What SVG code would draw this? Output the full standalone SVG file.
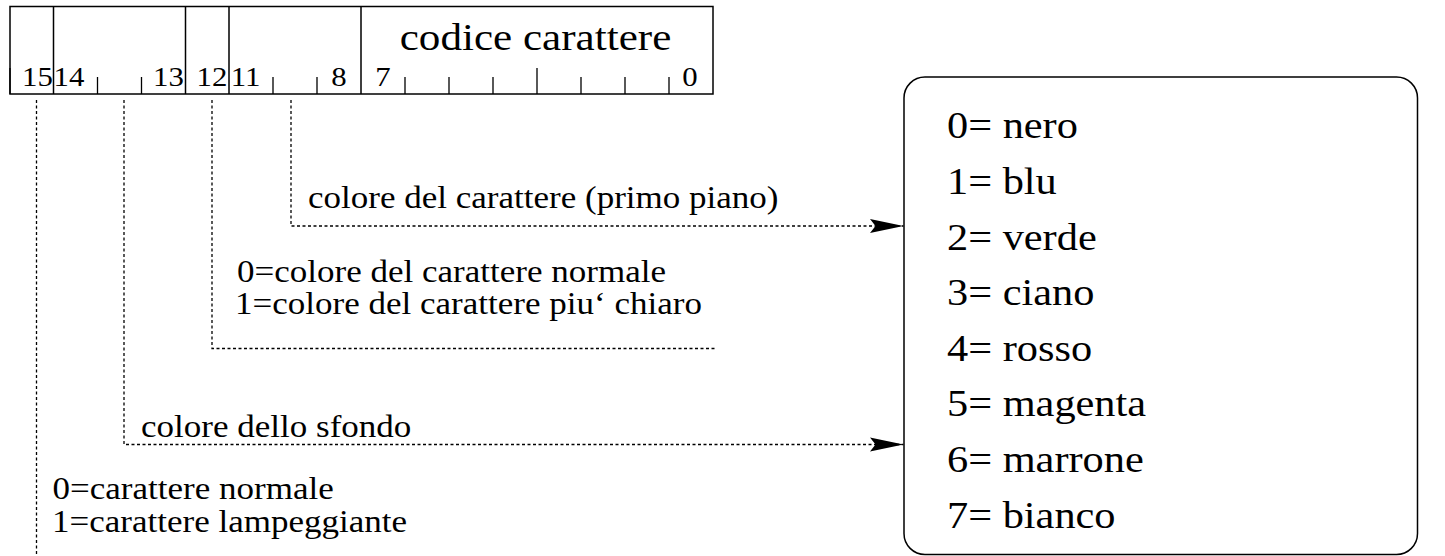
<svg xmlns="http://www.w3.org/2000/svg" width="1445" height="556" viewBox="0 0 1445 556">
<style>
.s{font-size:31px}
.l{font-size:38.5px}
.b{font-size:28px}
.m{text-anchor:middle}
.frame{fill:none;stroke:#000;stroke-width:1.5}
.tick{stroke:#000;stroke-width:1.3}
.dot{fill:none;stroke:#000;stroke-width:1.3;stroke-dasharray:3 2.5}
</style>
<defs>
<marker id="arr" markerUnits="userSpaceOnUse" markerWidth="34" markerHeight="14" refX="33.5" refY="7" orient="auto" overflow="visible">
<path d="M33.5,7 L0,0 L5.5,7 L0,14 Z" fill="#000"/>
</marker>
</defs>
<rect width="1445" height="556" fill="#fff"/>

<g id="register" font-family="Liberation Serif" fill="#000">
<rect class="frame" x="10" y="6.5" width="703" height="87.5"/>
<path class="frame" d="M53.5,6.5V94 M185.5,6.5V94 M229,6.5V94 M361,6.5V94"/>
<path class="tick" d="M97.5,77V94 M141.5,77V94 M273,77V94 M317,77V94 M405,77V94 M449,77V94 M493,77V94 M581,77V94 M625,77V94 M669,77V94 M537,68V94 M10,68V94"/>
<text class="l m" transform="translate(535.5,50) scale(1.12,1)">codice carattere</text>
<text class="b m" transform="translate(37.5,86) scale(1.1,1)">15</text>
<text class="b m" transform="translate(69,86) scale(1.1,1)">14</text>
<text class="b m" transform="translate(168.5,86) scale(1.1,1)">13</text>
<text class="b m" transform="translate(212,86) scale(1.1,1)">12</text>
<text class="b m" transform="translate(245.5,86) scale(1.1,1)">11</text>
<text class="b m" transform="translate(339,86) scale(1.1,1)">8</text>
<text class="b m" transform="translate(383,86) scale(1.1,1)">7</text>
<text class="b m" transform="translate(690,86) scale(1.1,1)">0</text>
</g>

<g id="colors" font-family="Liberation Serif" fill="#000">
<rect class="frame" x="904" y="77" width="513.5" height="477.5" rx="21" ry="21"/>
<text class="l" transform="translate(947,138.3) scale(1.1,1)">0= nero</text>
<text class="l" transform="translate(947,193.9) scale(1.1,1)">1= blu</text>
<text class="l" transform="translate(947,249.5) scale(1.1,1)">2= verde</text>
<text class="l" transform="translate(947,305.1) scale(1.1,1)">3= ciano</text>
<text class="l" transform="translate(947,360.7) scale(1.1,1)">4= rosso</text>
<text class="l" transform="translate(947,416.3) scale(1.1,1)">5= magenta</text>
<text class="l" transform="translate(947,471.9) scale(1.1,1)">6= marrone</text>
<text class="l" transform="translate(947,527.5) scale(1.1,1)">7= bianco</text>
</g>

<g id="connectors">
<path class="dot" d="M291,100V226H903.5" marker-end="url(#arr)"/>
<path class="dot" d="M212,100V348.5H715"/>
<path class="dot" d="M124,100V444.5H903.5" marker-end="url(#arr)"/>
<path class="dot" d="M36.5,100V556"/>
</g>

<g id="labels" font-family="Liberation Serif" fill="#000">
<text class="s" transform="translate(308,208) scale(1.13,1)">colore del carattere (primo piano)</text>
<text class="s" transform="translate(237,282) scale(1.13,1)">0=colore del carattere normale</text>
<text class="s" transform="translate(235,314) scale(1.13,1)">1=colore del carattere piu‘ chiaro</text>
<text class="s" transform="translate(141,437) scale(1.13,1)">colore dello sfondo</text>
<text class="s" transform="translate(52.5,499) scale(1.13,1)">0=carattere normale</text>
<text class="s" transform="translate(52,532) scale(1.13,1)">1=carattere lampeggiante</text>
</g>
</svg>
